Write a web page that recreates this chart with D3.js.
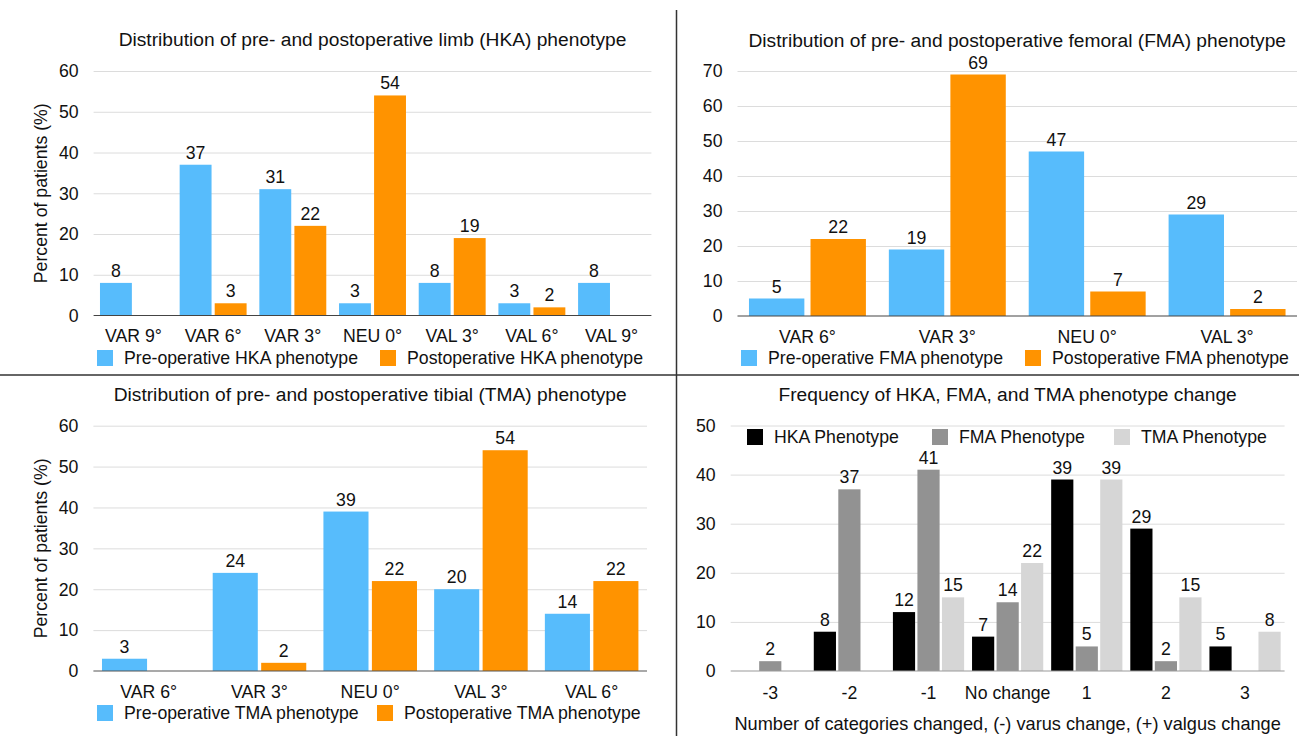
<!DOCTYPE html>
<html><head><meta charset="utf-8">
<script src="https://cdn.jsdelivr.net/npm/d3@7"></script>
<style>
html,body{margin:0;padding:0;background:#fff;}
svg text{font-family:"Liberation Sans",Arial,Helvetica,sans-serif;fill:#111;}
</style></head>
<body>
<svg id="c" width="1299" height="736"></svg>
<script>
// ---- data ----
const hkaCategories = ["VAR 9°","VAR 6°","VAR 3°","NEU 0°","VAL 3°","VAL 6°","VAL 9°"];
const hkaPre  = [8,37,31,3,8,3,8];
const hkaPost = [null,3,22,54,19,2,null];

const fmaCategories = ["VAR 6°","VAR 3°","NEU 0°","VAL 3°"];
const fmaPre  = [5,19,47,29];
const fmaPost = [22,69,7,2];

const tmaCategories = ["VAR 6°","VAR 3°","NEU 0°","VAL 3°","VAL 6°"];
const tmaPre  = [3,24,39,20,14];
const tmaPost = [null,2,22,54,22];

const changeCategories = ["-3","-2","-1","No change","1","2","3"];
const changeHKA = [null,8,12,7,39,29,5];
const changeFMA = [2,37,41,14,5,2,null];
const changeTMA = [null,null,15,22,39,15,8];

const yTicks60 = [0,10,20,30,40,50,60];
const yTicks70 = [0,10,20,30,40,50,60,70];
const yTicks50 = [0,10,20,30,40,50];

const BLUE="#57BCFC", ORANGE="#FF9300", BLACK="#000000", GREY="#929292", LIGHT="#D6D6D6";

const svg = d3.select("#c");
const FS = 17.7;

function panel(cfg){
  const g = svg.append("g");
  const x0 = d3.scaleBand().domain(cfg.categories).range(cfg.xr)
     .paddingInner(cfg.pad).paddingOuter(cfg.pad/2);
  const keys = cfg.series.map(s=>s.name);
  const x1 = d3.scaleBand().domain(keys).range([0,x0.bandwidth()]).paddingInner(cfg.subPad);
  const y = d3.scaleLinear().domain([0,cfg.ticks[cfg.ticks.length-1]]).range(cfg.yr);

  // gridlines
  g.append("g").selectAll("line").data(cfg.ticks.filter(t=>t>0)).join("line")
    .attr("x1",cfg.xr[0]).attr("x2",cfg.xr[1])
    .attr("y1",d=>y(d)+0.5).attr("y2",d=>y(d)+0.5)
    .attr("stroke","#DCDCDC").attr("stroke-width",1);
  // tick labels
  g.append("g").selectAll("text").data(cfg.ticks).join("text")
    .attr("x",cfg.xr[0]-15).attr("y",d=>y(d)).attr("dy","0.36em")
    .attr("text-anchor","end").style("font-size",FS+"px").text(d=>d);

  // bars
  cfg.series.forEach(s=>{
    const data = cfg.categories.map((c,i)=>({c, v:s.values[i]})).filter(d=>d.v!=null);
    g.append("g").selectAll("rect").data(data).join("rect")
      .attr("x",d=>x0(d.c)+x1(s.name)).attr("width",x1.bandwidth())
      .attr("y",d=>y(d.v)).attr("height",d=>y(0)-y(d.v))
      .attr("fill",s.color);
    g.append("g").selectAll("text").data(data).join("text")
      .attr("x",d=>x0(d.c)+x1(s.name)+x1.bandwidth()/2)
      .attr("y",d=>y(d.v)-6).attr("text-anchor","middle")
      .style("font-size",FS+"px").text(d=>d.v);
  });
  // baseline
  g.append("line").attr("x1",cfg.xr[0]).attr("x2",cfg.xr[1])
    .attr("y1",y(0)).attr("y2",y(0)).attr("stroke",cfg.baseColor).attr("stroke-width",1.2);

  // category labels
  g.append("g").selectAll("text").data(cfg.categories).join("text")
    .attr("x",d=>x0(d)+x0.bandwidth()/2).attr("y",cfg.catY).attr("dy","0.36em")
    .attr("text-anchor","middle").style("font-size",FS+"px").text(d=>d);

  // title
  g.append("text").attr("x",(cfg.xr[0]+cfg.xr[1])/2).attr("y",cfg.titleY).attr("dy","0.36em")
    .attr("text-anchor","middle").style("font-size","19.2px").text(cfg.title);

  // y title
  if(cfg.yTitle){
    const cy=(cfg.yr[0]+cfg.yr[1])/2;
    g.append("text").attr("transform",`translate(41,${cy}) rotate(-90)`).attr("dy","0.36em")
      .attr("text-anchor","middle").style("font-size",FS+"px").text(cfg.yTitle);
  }
  if(cfg.xTitle){
    g.append("text").attr("x",(cfg.xr[0]+cfg.xr[1])/2).attr("y",cfg.xTitleY).attr("dy","0.36em")
      .attr("text-anchor","middle").style("font-size","18.2px").text(cfg.xTitle);
  }
  // legend
  cfg.series.forEach((s,i)=>{
    const lx = cfg.legendX[i];
    g.append("rect").attr("x",lx).attr("y",cfg.legendY-8).attr("width",16).attr("height",16).attr("fill",s.color);
    g.append("text").attr("x",lx+cfg.legendGap).attr("y",cfg.legendY).attr("dy","0.36em")
      .style("font-size",FS+"px").text(s.label);
  });
}

panel({
  title:"Distribution of pre- and postoperative limb (HKA) phenotype", titleY:39,
  categories:hkaCategories, xr:[93.6,651.4], yr:[315.5,71], ticks:yTicks60,
  pad:0.16, subPad:0.09, catY:336, yTitle:"Percent of patients (%)", baseColor:"#444",
  series:[{name:"pre",values:hkaPre,color:BLUE,label:"Pre-operative HKA phenotype"},
          {name:"post",values:hkaPost,color:ORANGE,label:"Postoperative HKA phenotype"}],
  legendX:[97,380], legendGap:27, legendY:358
});
panel({
  title:"Distribution of pre- and postoperative femoral (FMA) phenotype", titleY:40,
  categories:fmaCategories, xr:[737.5,1297], yr:[316,71], ticks:yTicks70,
  pad:0.164, subPad:0.1, catY:337, baseColor:"#444",
  series:[{name:"pre",values:fmaPre,color:BLUE,label:"Pre-operative FMA phenotype"},
          {name:"post",values:fmaPost,color:ORANGE,label:"Postoperative FMA phenotype"}],
  legendX:[741,1025], legendGap:27, legendY:358
});
panel({
  title:"Distribution of pre- and postoperative tibial (TMA) phenotype", titleY:394,
  categories:tmaCategories, xr:[93.4,647], yr:[671,425.7], ticks:yTicks60,
  pad:0.155, subPad:0.07, catY:692, yTitle:"Percent of patients (%)", baseColor:"#555",
  series:[{name:"pre",values:tmaPre,color:BLUE,label:"Pre-operative TMA phenotype"},
          {name:"post",values:tmaPost,color:ORANGE,label:"Postoperative TMA phenotype"}],
  legendX:[97,377], legendGap:27, legendY:713
});
panel({
  title:"Frequency of HKA, FMA, and TMA phenotype change", titleY:394,
  categories:changeCategories, xr:[730.7,1284.6], yr:[671,425.5], ticks:yTicks50,
  pad:0.10, subPad:0.095, catY:693, baseColor:"#999",
  xTitle:"Number of categories changed, (-) varus change, (+) valgus change", xTitleY:723,
  series:[{name:"hka",values:changeHKA,color:BLACK,label:"HKA Phenotype"},
          {name:"fma",values:changeFMA,color:GREY,label:"FMA Phenotype"},
          {name:"tma",values:changeTMA,color:LIGHT,label:"TMA Phenotype"}],
  legendX:[747,932,1114], legendGap:27, legendY:437
});

// dividers
svg.append("line").attr("x1",676.5).attr("x2",676.5).attr("y1",10).attr("y2",736)
  .attr("stroke","#333").attr("stroke-width",1.5);
svg.append("line").attr("x1",0).attr("x2",1299).attr("y1",375).attr("y2",375)
  .attr("stroke","#333").attr("stroke-width",1.5);
</script>
</body></html>
